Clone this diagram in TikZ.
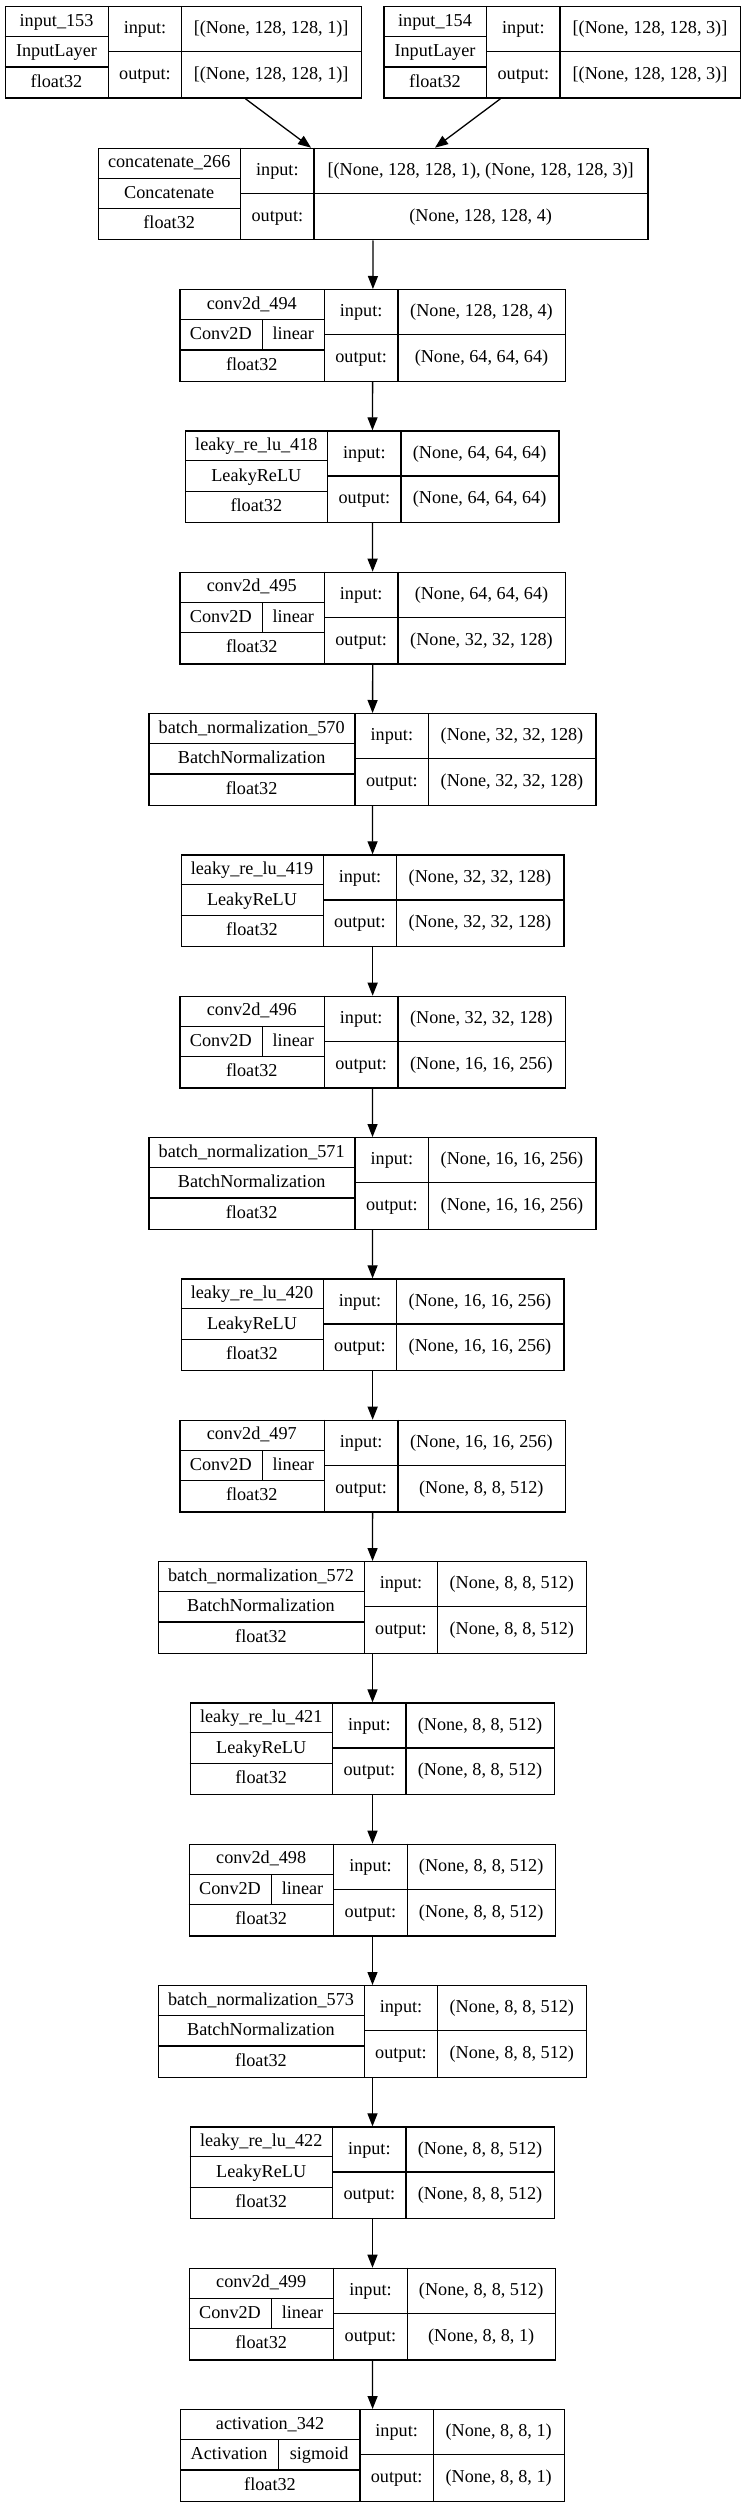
\documentclass[tikz,border=0pt]{standalone}
\usepackage{fontspec}
\setmainfont{Liberation Serif}
\usetikzlibrary{arrows.meta}

\def\hh{91.5}
\def\getx#1/#2/#3/#4\relax{\def\xa{#1}\def\xb{#2}\def\xc{#3}\def\xd{#4}}

% id, top, x0/x1/x2/x3, name, class, input, output
\newcommand{\layerbox}[7]{%
  \getx#3\relax
  \node[layer, minimum width={(\xd-\xa)*1pt}] (#1) at (\xa,#2) {};
  \draw (\xb,#2) -- ++(0,\hh) (\xc,#2) -- ++(0,\hh);
  \draw (\xa,#2+\hh/3) -- (\xb,#2+\hh/3) (\xa,#2+2*\hh/3) -- (\xb,#2+2*\hh/3);
  \draw (\xb,#2+\hh/2) -- (\xd,#2+\hh/2);
  \node[txt] (#1-name) at ({(\xa+\xb)/2},#2+\hh/6) {#4};
  \def\tmp{#5}\ifx\tmp\empty\else
    \node[txt] (#1-class) at ({(\xa+\xb)/2},#2+\hh/2) {#5};\fi
  \node[txt] (#1-dtype) at ({(\xa+\xb)/2},#2+5*\hh/6) {float32};
  \node[txt] (#1-inl) at ({(\xb+\xc)/2},#2+\hh/4) {input:};
  \node[txt] (#1-outl) at ({(\xb+\xc)/2},#2+3*\hh/4) {output:};
  \node[txt] (#1-in) at ({(\xc+\xd)/2},#2+\hh/4) {#6};
  \node[txt] (#1-out) at ({(\xc+\xd)/2},#2+3*\hh/4) {#7};
}

% id, top, x0/x1/x2/x3, xsplit, name, class, activation, input, output
\newcommand{\splitbox}[9]{%
  \layerbox{#1}{#2}{#3}{#5}{}{#8}{#9}%
  \draw (#4,#2+\hh/3) -- (#4,#2+2*\hh/3);
  \node[txt] (#1-class) at ({(\xa+#4)/2},#2+\hh/2) {#6};
  \node[txt] (#1-act) at ({(#4+\xb)/2},#2+\hh/2) {#7};
}

\begin{document}
\begin{tikzpicture}[x=1pt, y=-1pt, line width=1.3pt,
        layer/.style={draw, rectangle, inner sep=0pt, anchor=north west, minimum height=91.5pt},
        txt/.style={inner sep=0pt, font=\fontsize{18.2pt}{20pt}\selectfont, text height=13pt, text depth=3pt},
        arr/.style={-{Triangle[length=13pt,width=10pt]}}]

        \useasboundingbox (0,0) rectangle (744,2507);

        \layerbox{in153}{6}{4.7/108.3/181.7/360.7}{input\_153}{InputLayer}{[(None, 128, 128, 1)]}{[(None, 128, 128, 1)]}
        \layerbox{in154}{6}{383.3/486.7/560/740}{input\_154}{InputLayer}{[(None, 128, 128, 3)]}{[(None, 128, 128, 3)]}
        \layerbox{concat}{147.7}{97.7/240.7/314/647.3}{concatenate\_266}{Concatenate}{[(None, 128, 128, 1), (None, 128, 128, 3)]}{(None, 128, 128, 4)}

        \splitbox{conv494}{289}{179.3/324.3/398/565}{262.3}{conv2d\_494}{Conv2D}{linear}{(None, 128, 128, 4)}{(None, 64, 64, 64)}
        \layerbox{leaky418}{430.3}{185/327.7/401/558.3}{leaky\_re\_lu\_418}{LeakyReLU}{(None, 64, 64, 64)}{(None, 64, 64, 64)}
        \splitbox{conv495}{571.7}{179.3/324.3/398/565}{262.3}{conv2d\_495}{Conv2D}{linear}{(None, 64, 64, 64)}{(None, 32, 32, 128)}
        \layerbox{bn570}{713}{148.3/355/428.7/595.3}{batch\_normalization\_570}{BatchNormalization}{(None, 32, 32, 128)}{(None, 32, 32, 128)}
        \layerbox{leaky419}{854.3}{180.7/323.3/396.7/563.3}{leaky\_re\_lu\_419}{LeakyReLU}{(None, 32, 32, 128)}{(None, 32, 32, 128)}
        \splitbox{conv496}{995.7}{179.3/324.3/398/564.7}{262.3}{conv2d\_496}{Conv2D}{linear}{(None, 32, 32, 128)}{(None, 16, 16, 256)}
        \layerbox{bn571}{1137}{148.3/355/428.7/595.3}{batch\_normalization\_571}{BatchNormalization}{(None, 16, 16, 256)}{(None, 16, 16, 256)}
        \layerbox{leaky420}{1278.3}{180.7/323.3/396.7/563.3}{leaky\_re\_lu\_420}{LeakyReLU}{(None, 16, 16, 256)}{(None, 16, 16, 256)}
        \splitbox{conv497}{1419.7}{179.3/324.3/398/564.7}{262.3}{conv2d\_497}{Conv2D}{linear}{(None, 16, 16, 256)}{(None, 8, 8, 512)}
        \layerbox{bn572}{1561}{157.7/364.3/437.7/586}{batch\_normalization\_572}{BatchNormalization}{(None, 8, 8, 512)}{(None, 8, 8, 512)}
        \layerbox{leaky421}{1702.3}{189.7/332.7/406/554}{leaky\_re\_lu\_421}{LeakyReLU}{(None, 8, 8, 512)}{(None, 8, 8, 512)}
        \splitbox{conv498}{1843.7}{188.7/333.7/407.3/555}{271.3}{conv2d\_498}{Conv2D}{linear}{(None, 8, 8, 512)}{(None, 8, 8, 512)}
        \layerbox{bn573}{1985}{157.7/364.3/437.7/586}{batch\_normalization\_573}{BatchNormalization}{(None, 8, 8, 512)}{(None, 8, 8, 512)}
        \layerbox{leaky422}{2126.3}{189.7/332.7/406/554}{leaky\_re\_lu\_422}{LeakyReLU}{(None, 8, 8, 512)}{(None, 8, 8, 512)}
        \splitbox{conv499}{2267.7}{188.7/333.7/407.3/555}{271.3}{conv2d\_499}{Conv2D}{linear}{(None, 8, 8, 512)}{(None, 8, 8, 1)}
        \splitbox{act342}{2409}{180/360/433.3/564}{278.3}{activation\_342}{Activation}{sigmoid}{(None, 8, 8, 1)}{(None, 8, 8, 1)}

        \path[arr]
            (in153) edge (concat)
            (in154) edge (concat)
            (concat) edge (conv494)
            (conv494) edge (leaky418)
            (leaky418) edge (conv495)
            (conv495) edge (bn570)
            (bn570) edge (leaky419)
            (leaky419) edge (conv496)
            (conv496) edge (bn571)
            (bn571) edge (leaky420)
            (leaky420) edge (conv497)
            (conv497) edge (bn572)
            (bn572) edge (leaky421)
            (leaky421) edge (conv498)
            (conv498) edge (bn573)
            (bn573) edge (leaky422)
            (leaky422) edge (conv499)
            (conv499) edge (act342);
    \end{tikzpicture}
\end{document}
